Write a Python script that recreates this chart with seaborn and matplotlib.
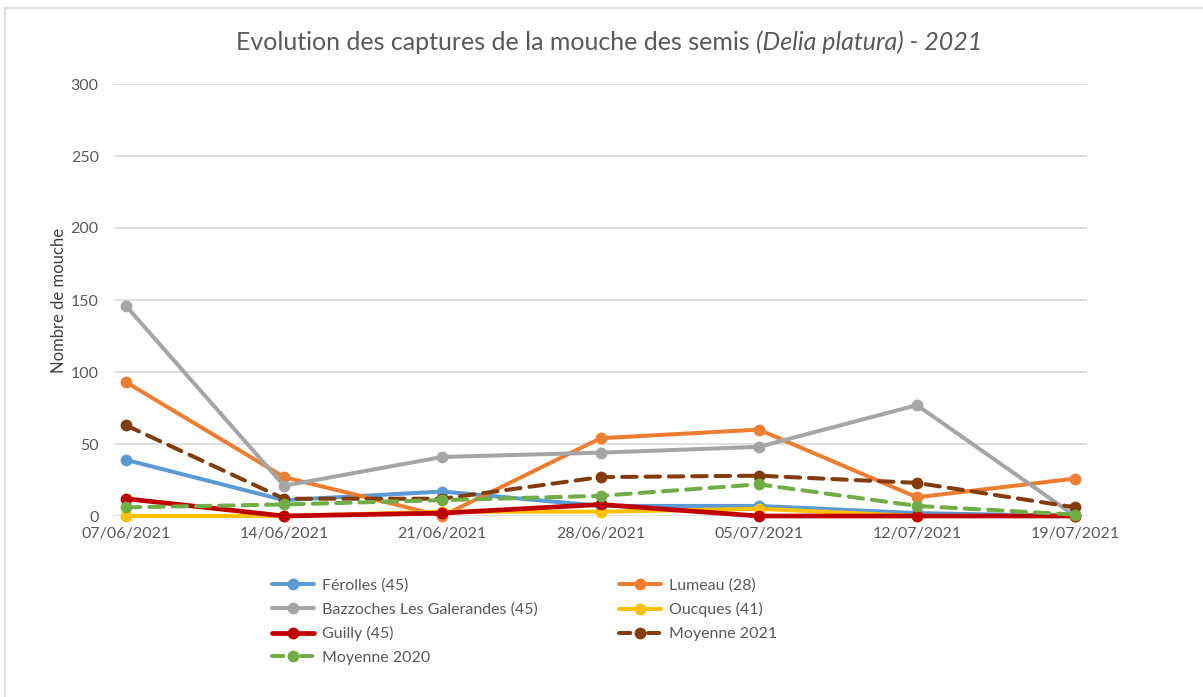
import numpy as np
import pandas as pd
import matplotlib.pyplot as plt
import matplotlib.patches as patches
from matplotlib.lines import Line2D
import seaborn as sns

sns.set_style('white')
plt.rcParams['font.family'] = ['Lato', 'DejaVu Sans']

dates = ['07/06/2021', '14/06/2021', '21/06/2021', '28/06/2021',
         '05/07/2021', '12/07/2021', '19/07/2021']

ferolles = [39, 11, 17, 7, 7, 2, 0]
lumeau = [93, 27, 0, 54, 60, 13, 26]
bazzoches = [146, 21, 41, 44, 48, 77, 0]
oucques = [0, 0, 3, 3, 5, 0, 0]
guilly = [12, 0, 2, 8, 0, 0, 0]
moy_2021 = [63, 12, 12, 27, 28, 23, 6]
moy_2020 = [6, 8, 11, 14, 22, 7, 1]

series = [
    ('Férolles (45)', ferolles, '#5B9BD5', 2.9, None),
    ('Lumeau (28)', lumeau, '#ED7D31', 2.9, None),
    ('Bazzoches Les Galerandes (45)', bazzoches, '#A5A5A5', 2.9, None),
    ('Oucques (41)', oucques, '#FFC000', 2.9, None),
    ('Guilly (45)', guilly, '#C00000', 3.4, None),
    ('Moyenne 2021', moy_2021, '#843C0C', 2.9, (3.6, 2.2)),
    ('Moyenne 2020', moy_2020, '#70AD47', 2.9, (3.6, 2.2)),
]

fig = plt.figure(figsize=(12.03, 6.97), dpi=100)
ax = fig.add_axes([114 / 1203, 181 / 697, 973 / 1203, 432 / 697])

x = np.arange(len(dates))
handles = {}
for i, (name, vals, col, lw, dash) in enumerate(series):
    df = pd.DataFrame({'x': x, 'y': vals})
    sns.lineplot(data=df, x='x', y='y', ax=ax, color=col, lw=lw,
                 marker='o', markersize=8.5, markeredgewidth=0,
                 zorder=3 + i, clip_on=False)
    ln = ax.lines[-1]
    if dash is not None:
        ln.set_dashes(dash)
        ln.set_dash_capstyle('round')
    handles[name] = Line2D([], [], color=col, lw=lw, marker='o', markersize=8.5,
                           markeredgewidth=0,
                           dashes=(2.8, 4.4) if dash else (None, None),
                           dash_capstyle='round')

ax.set_xlim(-0.075, 6.075)
ax.set_ylim(0, 300)
ax.set_yticks(range(0, 301, 50))
ax.set_xticks(x)
ax.set_xticklabels(dates)
ax.yaxis.grid(True, color='#D9D9D9', lw=1.2)
ax.set_axisbelow(True)
for s in ax.spines.values():
    s.set_visible(False)
ax.tick_params(axis='both', length=0, labelsize=11.5, labelcolor='#595959')
ax.tick_params(axis='y', pad=11)
ax.tick_params(axis='x', pad=8)
ax.set_xlabel('')
ax.set_ylabel('Nombre de mouche', fontsize=12, color='#404040', labelpad=2.5)

# legend, row-wise like the original
order = ['Férolles (45)', 'Bazzoches Les Galerandes (45)', 'Guilly (45)', 'Moyenne 2020',
         'Lumeau (28)', 'Oucques (41)', 'Moyenne 2021']
leg = fig.legend([handles[k] for k in order], order, ncol=2, frameon=False,
                 loc='upper left', bbox_to_anchor=(258 / 1203, 1 - 564 / 697),
                 fontsize=11.5, handlelength=2.6, handletextpad=0.5,
                 columnspacing=5.1, labelspacing=0.6)
for t in leg.get_texts():
    t.set_color('#595959')

# title with italic part
t1 = fig.text(0, 0, 'Evolution des captures de la mouche des semis ', fontsize=18,
              color='#595959', va='center')
t2 = fig.text(0, 0, '(Delia platura) - 2021', fontsize=18, style='italic',
              color='#595959', va='center')
r = fig.canvas.get_renderer()
w1 = t1.get_window_extent(r).width
w2 = t2.get_window_extent(r).width
cx = 609
ty = 1 - 42 / 697
t1.set_position(((cx - (w1 + w2) / 2) / 1203, ty))
t2.set_position(((cx - (w1 + w2) / 2 + w1) / 1203, ty))

fig.patches.append(patches.Rectangle((5 / 1203, -0.1), 1.2, 1.1 - 8 / 697,
                                     transform=fig.transFigure, fill=False,
                                     edgecolor='#D9D9D9', lw=1.2))

fig.savefig('out.png', dpi=100, facecolor='white')
